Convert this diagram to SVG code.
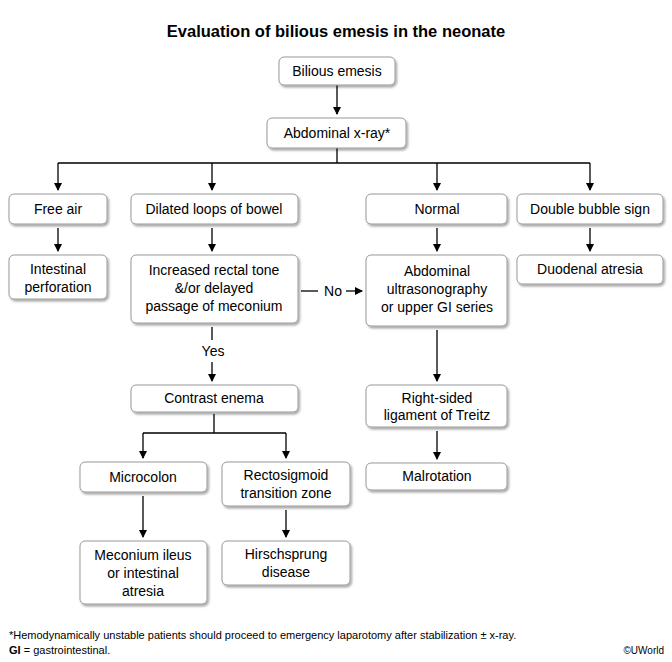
<svg xmlns="http://www.w3.org/2000/svg" width="672" height="662" viewBox="0 0 672 662">
<defs>
<filter id="sh" x="-10%" y="-10%" width="130%" height="140%"><feDropShadow dx="1.5" dy="2" stdDeviation="1.2" flood-color="#000" flood-opacity="0.35"/></filter>
<marker id="ar" markerWidth="8" markerHeight="8" refX="7" refY="4" orient="auto" markerUnits="userSpaceOnUse"><path d="M0,0 L8,4 L0,8 z" fill="#000"/></marker>
</defs>
<style>
.b{fill:#fff;stroke:#999;stroke-width:1;filter:url(#sh)}
text{font-family:"Liberation Sans",Arial,sans-serif;font-size:14px;fill:#000;text-anchor:middle}
.c line,.c path{stroke:#000;stroke-width:1.3;fill:none}
.a{marker-end:url(#ar)}
</style>
<rect width="672" height="662" fill="#fff"/>
<text x="336" y="37" style="font-size:16.5px;font-weight:bold">Evaluation of bilious emesis in the neonate</text>
<g class="c">
<line class="a" x1="337" y1="85" x2="337" y2="114"/>
<path d="M337,148 V163 M58,163 H590"/>
<line class="a" x1="58" y1="163" x2="58" y2="190"/>
<line class="a" x1="212" y1="163" x2="212" y2="190"/>
<line class="a" x1="437" y1="163" x2="437" y2="190"/>
<line class="a" x1="590" y1="163" x2="590" y2="190"/>
<line class="a" x1="58" y1="228" x2="58" y2="251"/>
<line class="a" x1="212" y1="228" x2="212" y2="251"/>
<line class="a" x1="437" y1="228" x2="437" y2="251"/>
<line class="a" x1="590" y1="228" x2="590" y2="251"/>
<line x1="301" y1="291" x2="318" y2="291"/>
<line class="a" x1="346" y1="291" x2="362" y2="291"/>
<line x1="212" y1="327" x2="212" y2="340"/>
<line class="a" x1="212" y1="362" x2="212" y2="381"/>
<path d="M214,414 V433 M143,433 H286"/>
<line class="a" x1="143" y1="433" x2="143" y2="458"/>
<line class="a" x1="286" y1="433" x2="286" y2="458"/>
<line class="a" x1="143" y1="496" x2="143" y2="537"/>
<line class="a" x1="286" y1="510" x2="286" y2="537"/>
<line class="a" x1="437" y1="330" x2="437" y2="381"/>
<line class="a" x1="437" y1="431" x2="437" y2="459"/>
<text x="333" y="296">No</text>
<text x="213" y="356">Yes</text>
</g>
<g id="n1"><rect class="b" x="279" y="57" width="116" height="28" rx="5"/><text x="337" y="76">Bilious emesis</text></g>
<g id="n2"><rect class="b" x="267" y="118" width="139" height="30" rx="5"/><text x="337" y="138">Abdominal x-ray*</text></g>
<g id="n3"><rect class="b" x="9" y="194" width="98" height="30" rx="5"/><text x="58" y="214">Free air</text></g>
<g id="n4"><rect class="b" x="131" y="194" width="167" height="30" rx="5"/><text x="214" y="214">Dilated loops of bowel</text></g>
<g id="n5"><rect class="b" x="366" y="194" width="141" height="30" rx="5"/><text x="437" y="214">Normal</text></g>
<g id="n6"><rect class="b" x="517" y="194" width="146" height="30" rx="5"/><text x="590" y="214">Double bubble sign</text></g>
<g id="n7"><rect class="b" x="9" y="255" width="98" height="44" rx="5"/><text x="58" y="274">Intestinal</text><text x="58" y="292">perforation</text></g>
<g id="n8"><rect class="b" x="131" y="255" width="167" height="68" rx="5"/><text x="214" y="275">Increased rectal tone</text><text x="214" y="293">&amp;/or delayed</text><text x="214" y="311">passage of meconium</text></g>
<g id="n9"><rect class="b" x="366" y="255" width="141" height="71" rx="5"/><text x="437" y="276">Abdominal</text><text x="437" y="294">ultrasonography</text><text x="437" y="312">or upper GI series</text></g>
<g id="n10"><rect class="b" x="517" y="255" width="146" height="29" rx="5"/><text x="590" y="274">Duodenal atresia</text></g>
<g id="n11"><rect class="b" x="131" y="385" width="167" height="27" rx="5"/><text x="214" y="403">Contrast enema</text></g>
<g id="n12"><rect class="b" x="366" y="385" width="141" height="42" rx="5"/><text x="437" y="403">Right-sided</text><text x="437" y="420">ligament of Treitz</text></g>
<g id="n13"><rect class="b" x="80" y="462" width="127" height="30" rx="5"/><text x="143" y="482">Microcolon</text></g>
<g id="n14"><rect class="b" x="222" y="462" width="128" height="44" rx="5"/><text x="286" y="480">Rectosigmoid</text><text x="286" y="498">transition zone</text></g>
<g id="n15"><rect class="b" x="366" y="463" width="141" height="27" rx="5"/><text x="437" y="481">Malrotation</text></g>
<g id="n16"><rect class="b" x="80" y="541" width="127" height="63" rx="5"/><text x="143" y="560">Meconium ileus</text><text x="143" y="578">or intestinal</text><text x="143" y="596">atresia</text></g>
<g id="n17"><rect class="b" x="222" y="541" width="128" height="44" rx="5"/><text x="286" y="559">Hirschsprung</text><text x="286" y="577">disease</text></g>
<text x="9" y="639" style="font-size:11px;text-anchor:start">*Hemodynamically unstable patients should proceed to emergency laparotomy after stabilization ± x-ray.</text>
<text x="9" y="654" style="font-size:11px;text-anchor:start"><tspan font-weight="bold">GI</tspan> = gastrointestinal.</text>
<text x="664" y="654" style="font-size:10px;text-anchor:end">©UWorld</text>
</svg>
